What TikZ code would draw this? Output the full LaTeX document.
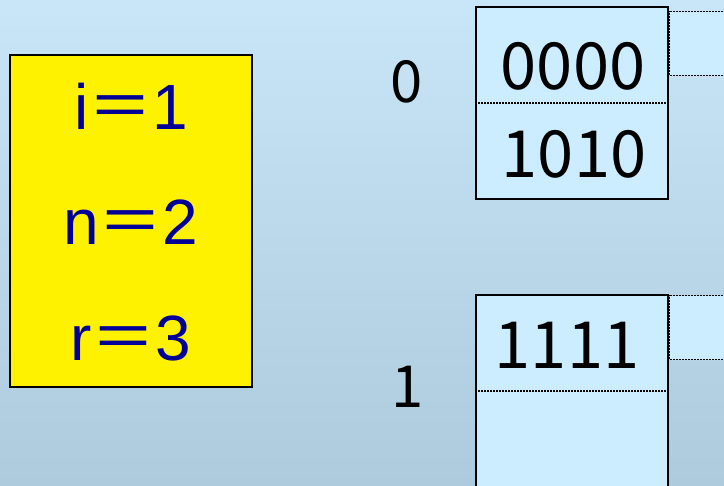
\documentclass[tikz,border=0pt]{standalone}
\usepackage{fontspec}
\setmainfont{Liberation Sans}
\newfontfamily\cjk{Noto Sans CJK JP}
\usetikzlibrary{positioning}
\definecolor{skytop}{HTML}{C8E6F8}
\definecolor{skybot}{HTML}{AECADD}
\definecolor{cell}{HTML}{CCECFF}
\definecolor{ink}{HTML}{000099}
\newcommand{\weq}{{\cjk ＝}}
\tikzset{param/.style={draw=black,fill=yellow,line width=0.75pt,minimum width=121pt,
 minimum height=166pt,inner sep=0pt},ptext/.style={text=ink,font=\fontsize{32}{38}\selectfont,inner sep=0pt},
 bucket/.style={draw=black,fill=cell,line width=0.75pt,minimum width=96pt,minimum height=96pt,inner sep=0pt},
 key/.style={font=\cjk\fontsize{32.5}{38}\selectfont,inner sep=0pt},idx/.style={font=\cjk\fontsize{29}{34}\selectfont,inner sep=0pt},
 sep/.style={line width=0.6pt,dash pattern=on 1pt off 0.5pt},
 ovf/.style={draw=black,fill=cell,line width=0.6pt,dash pattern=on 1pt off 0.5pt,anchor=north west,
 minimum width=40pt,minimum height=32pt,inner sep=0pt}}

\begin{document}
\begin{tikzpicture}[x=0.5pt,y=-0.5pt]
\clip (0,0) rectangle (724,486);
\shade[top color=skytop,bottom color=skybot] (0,0) rectangle (724,486);
% parameters
\node[param] (params) at (131,221) {};
\node[ptext] (pi) at (131,106) {i\weq 1};
\node[ptext] (pn) at (131,222) {n\weq 2};
\node[ptext] (pr) at (131,338) {r\weq 3};
% bucket 0
\node[ovf] (o0) at (669,11) {};
\node[bucket] (b0) at (572,103) {};
\draw[sep] (b0.west)--(b0.east);
\node[key] (k00) at (573,66) {0000};
\node[key] (k01) at (574,154) {1010};
\node[idx] (l0) at (407,82) {0};
% bucket 1
\node[ovf] (o1) at (669,295) {};
\node[bucket] (b1) at (572,391) {};
\draw[sep] (b1.west)--(b1.east);
\node[key] (k10) at (567,345) {1111};
\node[idx] (l1) at (408,387) {1};
\end{tikzpicture}
\end{document}
